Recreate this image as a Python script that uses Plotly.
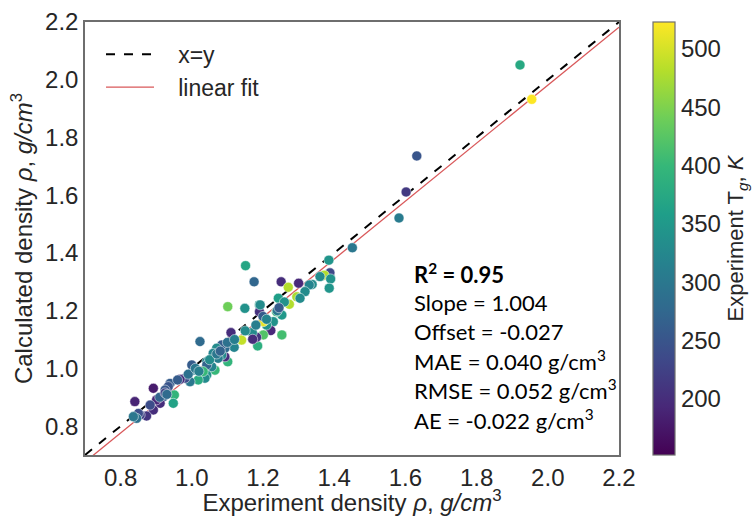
import plotly.graph_objects as go

# ---- data ----
exp_density = [
    1.922, 1.955, 1.632, 1.602, 1.582, 1.451, 1.385, 1.151, 1.175, 1.251,
    1.300, 1.271, 1.388, 1.372, 1.360, 1.390, 1.386, 1.338, 1.330, 1.318,
    1.295, 1.304, 1.243, 1.274, 1.253, 1.238, 1.229, 1.222, 1.253, 1.210,
    1.201, 1.201, 1.190, 1.190, 1.185, 1.182, 1.170, 1.149, 1.140, 1.119,
    1.110, 1.101, 1.101, 1.093, 1.093, 1.084, 1.084, 1.074, 1.070, 1.065,
    1.060, 1.056, 1.042, 1.042, 1.042, 1.037, 1.032, 1.023, 1.018, 1.004,
    1.000, 0.995, 0.981, 0.967, 0.951, 0.948, 0.939, 0.934, 0.925, 0.920,
    0.911, 0.901, 0.892, 0.892, 0.883, 0.873, 0.855, 0.850, 0.845, 0.840,
    0.836, 0.910, 0.925, 0.930, 0.960, 0.990, 1.010, 1.020, 1.050, 1.070,
    1.080, 1.100, 1.120, 1.150, 1.180, 1.200, 1.210, 1.260, 1.240, 1.171,
    1.192, 1.245,
]
calc_density = [
    2.051, 1.932, 1.736, 1.611, 1.521, 1.418, 1.375, 1.356, 1.300, 1.300,
    1.295, 1.281, 1.331, 1.323, 1.318, 1.310, 1.278, 1.291, 1.289, 1.266,
    1.248, 1.243, 1.243, 1.222, 1.185, 1.196, 1.162, 1.131, 1.116, 1.150,
    1.162, 1.116, 1.220, 1.196, 1.078, 1.108, 1.124, 1.208, 1.098, 1.073,
    1.124, 1.214, 1.023, 1.040, 1.070, 1.081, 1.046, 1.035, 1.070, 0.994,
    1.052, 1.006, 1.023, 1.012, 0.977, 0.966, 0.989, 1.093, 0.960, 0.994,
    1.012, 0.954, 0.966, 0.962, 0.908, 0.879, 0.948, 0.937, 0.925, 0.902,
    0.879, 0.891, 0.931, 0.856, 0.873, 0.835, 0.839, 0.844, 0.827, 0.885,
    0.833, 0.900, 0.915, 0.910, 0.960, 0.980, 1.000, 0.990, 1.030, 1.050,
    1.060, 1.090, 1.100, 1.130, 1.150, 1.180, 1.170, 1.230, 1.200, 1.101,
    1.220, 1.210,
]
exp_tg = [
    375, 523, 250, 215, 305, 300, 345, 370, 275, 200,
    195, 480, 235, 480, 330, 340, 345, 330, 320, 330,
    475, 330, 360, 480, 350, 400, 340, 195, 410, 340,
    510, 420, 360, 205, 385, 210, 330, 340, 490, 320,
    200, 440, 395, 200, 280, 260, 330, 310, 330, 400,
    320, 320, 320, 270, 340, 330, 400, 280, 380, 320,
    260, 300, 240, 200, 395, 365, 260, 250, 255, 260,
    200, 195, 180, 200, 240, 210, 225, 240, 290, 190,
    300, 270, 230, 280, 260, 290, 300, 310, 330, 300,
    270, 290, 310, 330, 310, 260, 320, 340, 300, 200,
    330, 260,
]

# fit and reference line
slope, offset = 1.004, -0.027
ref_x = [0.7, 2.2]
fit_x = [0.7, 2.2]
fit_y = [slope * v + offset for v in fit_x]

stats_lines = [
    "<b>R<sup>2</sup> = 0.95</b>",
    "Slope = 1.004",
    "Offset = -0.027",
    "MAE = 0.040 g/cm<sup>3</sup>",
    "RMSE = 0.052 g/cm<sup>3</sup>",
    "AE = -0.022 g/cm<sup>3</sup>",
]
axis_ticks = [0.8, 1.0, 1.2, 1.4, 1.6, 1.8, 2.0, 2.2]
cbar_ticks = [200, 250, 300, 350, 400, 450, 500]

TXT = "#262626"
FRAME = "#6e6e6e"
FONT = "Liberation Sans, Arial, sans-serif"
PAD = "\u00a0\u00a0\u00a0"

fig = go.Figure()
fig.add_trace(go.Scatter(
    x=ref_x, y=ref_x, mode="lines", name=PAD + "x=y",
    line=dict(color="black", width=2, dash="dash"),
))
fig.add_trace(go.Scatter(
    x=fit_x, y=fit_y, mode="lines", name=PAD + "linear fit",
    line=dict(color="#d9585a", width=1.3),
))
fig.add_trace(go.Scatter(
    x=exp_density, y=calc_density, mode="markers", showlegend=False,
    marker=dict(
        size=10, color=exp_tg, colorscale="Viridis", cmin=152, cmax=523,
        line=dict(color="white", width=0.5),
        colorbar=dict(
            x=1.0637, xanchor="left", y=0.5, yanchor="middle",
            len=1, lenmode="fraction", ypad=0, xpad=0, thickness=22,
            outlinewidth=1.2, outlinecolor=FRAME,
            tickvals=cbar_ticks, ticks="", ticklabelposition="outside",
            tickfont=dict(size=24, color=TXT, family=FONT),
            title=dict(text="Experiment T<sub><i>g</i></sub>, <i>K</i>",
                       side="right", font=dict(size=22, color=TXT, family=FONT)),
        ),
    ),
))

ytop = 22
ybot = 455
for i, t in enumerate(stats_lines):
    py = 273 + i * 29.2
    fig.add_annotation(
        x=(412 - 85) / 534, y=(ybot - py) / (ybot - ytop), xref="paper", yref="paper",
        xanchor="left", yanchor="middle", text=t, showarrow=False,
        font=dict(family="Lato, Carlito, sans-serif", size=22, color="black"),
    )

axis_common = dict(
    range=[0.7, 2.2], tickvals=axis_ticks, ticktext=[f"{v:.1f}" for v in axis_ticks],
    showgrid=False, zeroline=False, showline=True, mirror=True,
    linecolor=FRAME, linewidth=1.5, ticks="", automargin=True,
    tickfont=dict(size=24, color=TXT, family=FONT),
)
fig.update_xaxes(**axis_common,
                 title=dict(text="Experiment density <i>ρ</i>, <i>g/cm</i><sup>3</sup>",
                            font=dict(size=24, color=TXT, family=FONT), standoff=9))
fig.update_yaxes(**axis_common,
                 title=dict(text="Calculated density <i>ρ</i>, <i>g/cm</i><sup>3</sup>",
                            font=dict(size=24, color=TXT, family=FONT), standoff=6))

fig.update_layout(
    width=752, height=516,
    margin=dict(l=85, r=133, t=22, b=61, autoexpand=False),
    plot_bgcolor="white", paper_bgcolor="white",
    legend=dict(x=0.03, y=0.975, xanchor="left", yanchor="top", itemwidth=48,
                bgcolor="rgba(0,0,0,0)", font=dict(size=23, color=TXT, family=FONT)),
)

fig.write_html("out.html")
